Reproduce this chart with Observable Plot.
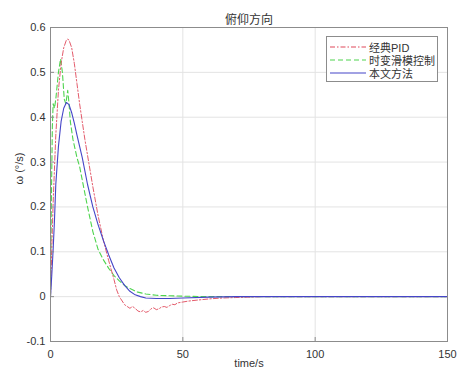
<!DOCTYPE html>
<html>
<head>
<meta charset="utf-8">
<script src="https://cdn.jsdelivr.net/npm/d3@7"></script>
<script src="https://cdn.jsdelivr.net/npm/@observablehq/plot@0.6"></script>
<style>
  body { margin: 0; background: #fff; }
  #wrap { position: relative; width: 459px; height: 376px; font-family: "Liberation Sans", Arial, "Noto Sans CJK SC", sans-serif; }
  #legend { position: absolute; left: 326px; top: 36px; width: 112px; height: 46px; border: 1px solid #8c8c8c; background: #fff; box-sizing: border-box; font-size: 11px; color: #333; }
  .row { position: absolute; left: 2px; height: 14px; display: flex; align-items: center; }
  .row span { margin-left: 3px; white-space: nowrap; }
</style>
</head>
<body>
<div id="wrap"></div>
<script>
// ---- data ----
const title = "俯仰方向";
const xLabel = "time/s";
const yLabel = "ω (°/s)";
const xTicks = [0, 50, 100, 150];
const yTicks = [-0.1, 0, 0.1, 0.2, 0.3, 0.4, 0.5, 0.6];
const seriesNames = ["经典PID", "时变滑模控制", "本文方法"];

const pidT = [0, 0.5, 1, 2, 3, 4, 5, 6, 6.5, 7, 8, 9, 10, 11, 12, 13, 14, 15, 16, 18, 20, 22, 24, 25, 26, 28, 29, 30, 31, 32, 33, 34, 35, 36, 37, 38, 39, 40, 41, 42, 43, 44, 45, 46, 47, 48, 50, 52, 55, 60, 65, 70, 80, 150];
const pidV = [0, 0.11, 0.21, 0.36, 0.46, 0.52, 0.555, 0.572, 0.574, 0.572, 0.555, 0.52, 0.475, 0.43, 0.39, 0.35, 0.315, 0.28, 0.245, 0.18, 0.125, 0.08, 0.038, 0.015, 0.0, -0.018, -0.022, -0.026, -0.022, -0.026, -0.032, -0.034, -0.031, -0.035, -0.033, -0.027, -0.025, -0.029, -0.027, -0.023, -0.022, -0.024, -0.02, -0.017, -0.018, -0.014, -0.012, -0.01, -0.008, -0.005, -0.003, -0.002, 0, 0];

const smcT = [0, 0.3, 0.7, 1, 1.5, 2, 3, 3.8, 4.5, 5.2, 5.8, 6.5, 7, 7.5, 8.5, 10, 11, 12, 14, 16, 18, 20, 22, 24, 26, 28, 30, 33, 36, 40, 45, 50, 60, 150];
const smcV = [0, 0.2, 0.38, 0.43, 0.42, 0.44, 0.5, 0.53, 0.5, 0.44, 0.43, 0.46, 0.43, 0.39, 0.35, 0.31, 0.29, 0.26, 0.2, 0.145, 0.105, 0.082, 0.063, 0.047, 0.035, 0.025, 0.018, 0.01, 0.006, 0.003, 0.002, 0.001, 0, 0];

const ourT = [0, 0.5, 1, 1.5, 2, 3, 4, 5, 6, 7, 8, 9, 10, 11, 12, 14, 16, 18, 20, 22, 24, 26, 28, 30, 32, 34, 36, 40, 45, 50, 60, 70, 150];
const ourV = [0, 0.05, 0.105, 0.17, 0.25, 0.335, 0.39, 0.42, 0.433, 0.428, 0.41, 0.387, 0.36, 0.335, 0.31, 0.25, 0.2, 0.16, 0.125, 0.093, 0.064, 0.042, 0.025, 0.012, 0.004, 0, -0.003, -0.004, -0.004, -0.003, -0.001, 0, 0];

const colors = ["#e0485a", "#4fd44f", "#4545c8"];
const dashes = ["5,2,1.5,2", "5,3", null];

const toRows = (T, V, name) => T.map((t, i) => ({t, v: V[i], name}));
const pid = toRows(pidT, pidV, seriesNames[0]);
const smc = toRows(smcT, smcV, seriesNames[1]);
const ours = toRows(ourT, ourV, seriesNames[2]);

const fmt = d => String(Math.round(d * 10) / 10);

const chart = Plot.plot({
  width: 459,
  height: 376,
  marginLeft: 50,
  marginRight: 12,
  marginTop: 27,
  marginBottom: 35,
  style: {fontFamily: '"Liberation Sans", Arial, "Noto Sans CJK SC", sans-serif', fontSize: "11px", color: "#333", background: "#fff"},
  x: {type: "linear", domain: [0, 150]},
  y: {type: "linear", domain: [-0.1, 0.6]},
  marks: [
    Plot.gridX(xTicks, {stroke: "#e3e3e3", strokeOpacity: 1}),
    Plot.gridY(yTicks, {stroke: "#e3e3e3", strokeOpacity: 1}),
    Plot.line(smc, {x: "t", y: "v", stroke: colors[1], strokeWidth: 1.1, strokeDasharray: dashes[1]}),
    Plot.line(pid, {x: "t", y: "v", stroke: colors[0], strokeWidth: 0.9, strokeDasharray: dashes[0]}),
    Plot.line(ours, {x: "t", y: "v", stroke: colors[2], strokeWidth: 1.1}),
    Plot.frame({stroke: "#8c8c8c"}),
    Plot.axisX(xTicks, {tickSize: -4, tickPadding: 13, stroke: "#8c8c8c", tickFormat: d => String(d), label: null, fill: "#333", fontSize: 11}),
    Plot.axisY(yTicks, {tickSize: -4, tickPadding: 9, stroke: "#8c8c8c", tickFormat: fmt, label: null, fill: "#333", fontSize: 11}),
    Plot.text([xLabel], {frameAnchor: "bottom", dy: 25, fill: "#333", fontSize: 11}),
    Plot.text([yLabel], {frameAnchor: "left", dx: -31, rotate: -90, fill: "#333", fontSize: 11}),
    Plot.text([title], {frameAnchor: "top", dy: -12, fill: "#333", fontSize: 12})
  ]
});

const wrap = document.getElementById("wrap");
wrap.appendChild(chart);

// legend
const legend = document.createElement("div");
legend.id = "legend";
const rowTops = [3, 16, 29];
seriesNames.forEach((name, i) => {
  const row = document.createElement("div");
  row.className = "row";
  row.style.top = rowTops[i] + "px";
  const svg = d3.create("svg").attr("width", 37).attr("height", 14);
  svg.append("line").attr("x1", 1).attr("x2", 37).attr("y1", 7).attr("y2", 7)
    .attr("stroke", colors[i]).attr("stroke-width", 1.1)
    .attr("stroke-dasharray", dashes[i]);
  row.appendChild(svg.node());
  const s = document.createElement("span");
  s.textContent = name;
  row.appendChild(s);
  legend.appendChild(row);
});
wrap.appendChild(legend);
</script>
</body>
</html>
